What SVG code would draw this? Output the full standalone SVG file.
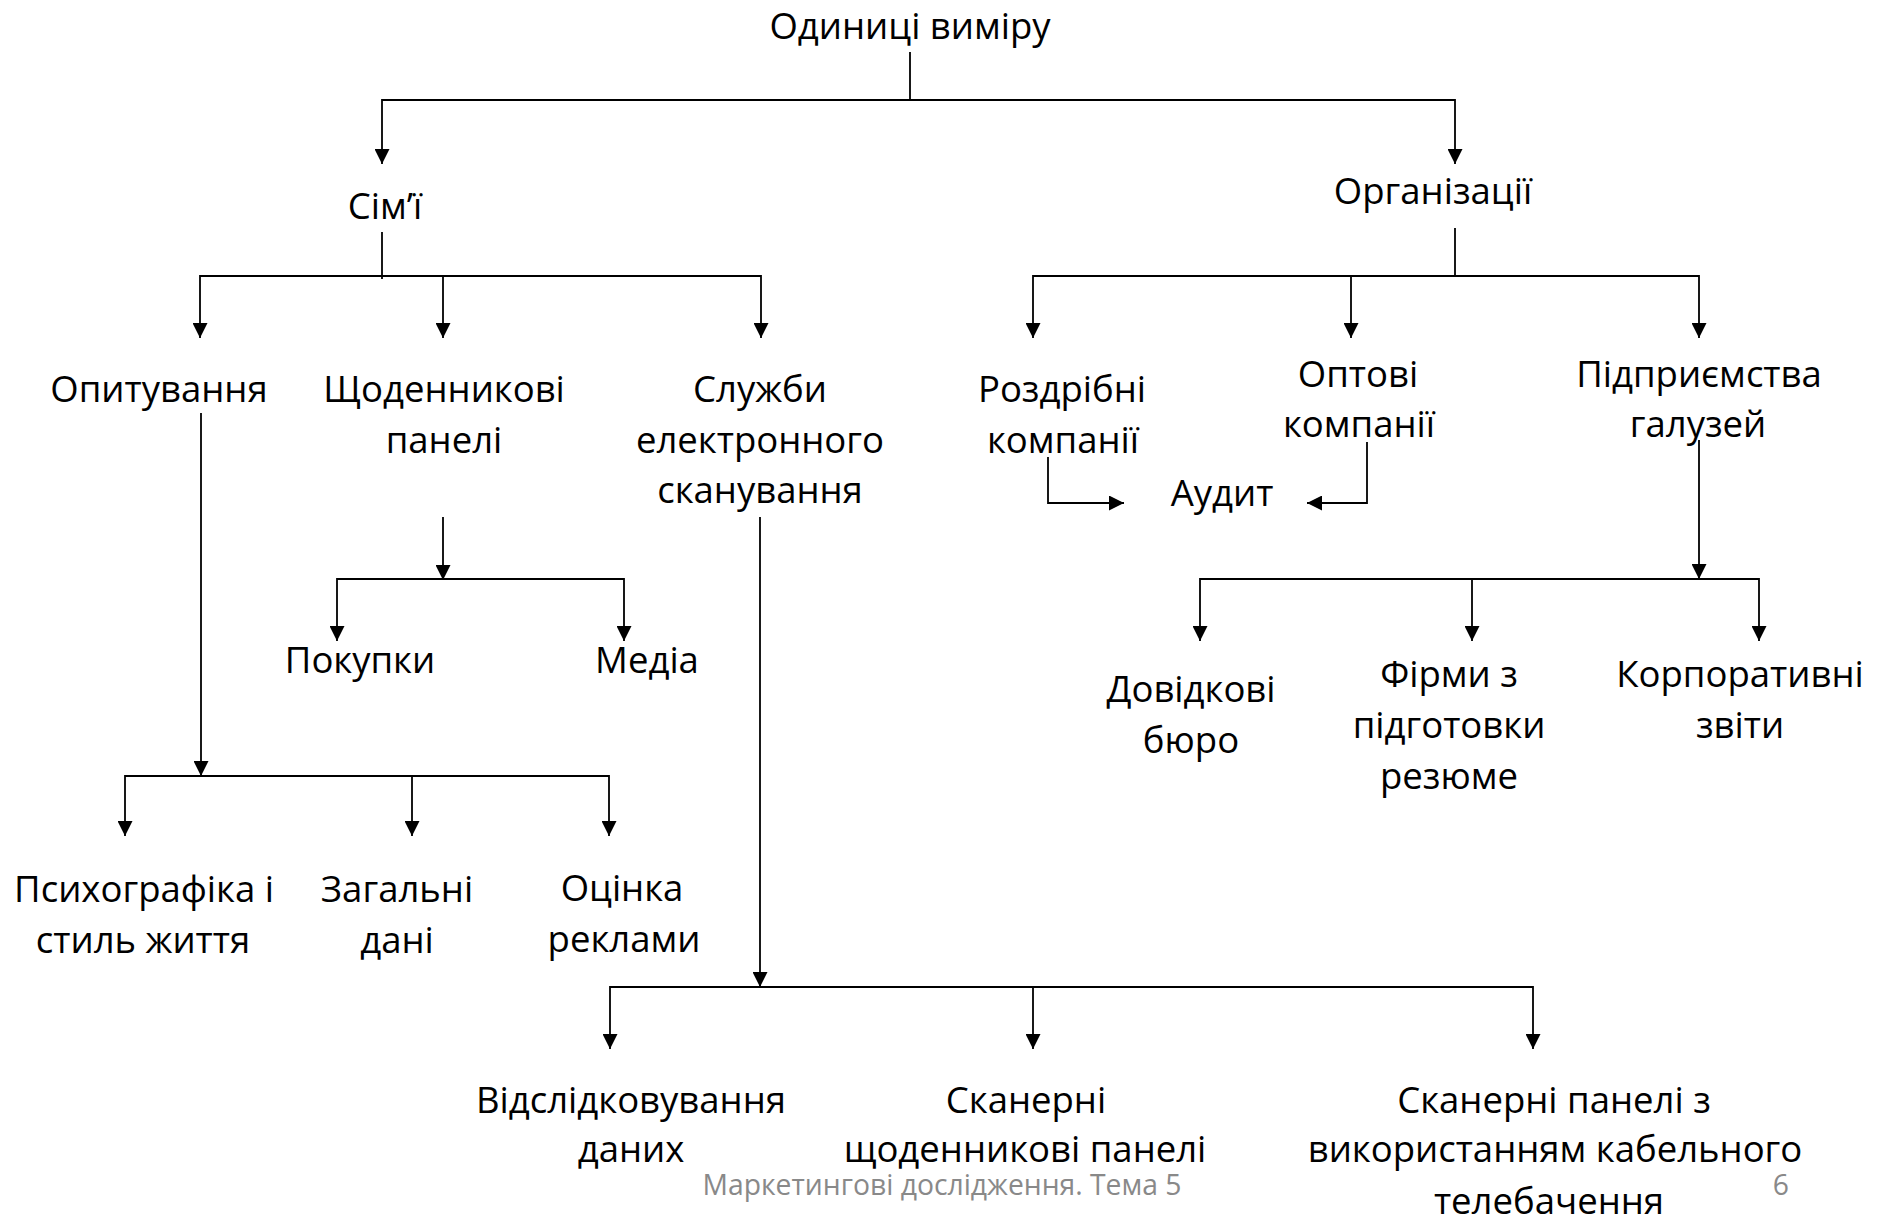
<svg xmlns="http://www.w3.org/2000/svg" width="1886" height="1222" viewBox="0 0 1886 1222">
<defs>
<marker id="arr" markerUnits="userSpaceOnUse" markerWidth="15" markerHeight="15" refX="15" refY="7.5" orient="auto">
<path d="M0,0 L15,7.5 L0,15 z" fill="#000"/>
</marker>
</defs>
<style>
.t{font-family:"Open Sans","Liberation Sans",sans-serif;font-size:36.5px;fill:#000;text-anchor:middle}
.c{fill:none;stroke:#000;stroke-width:1.8}
.a{fill:none;stroke:#000;stroke-width:1.8;marker-end:url(#arr)}
.f{font-family:"Open Sans","Liberation Sans",sans-serif;font-size:28.3px;fill:#898989}
</style>
<rect width="1886" height="1222" fill="#fff"/>
<g id="connectors">
<path class="a" d="M910,52 V100 H382 V164"/>
<path class="a" d="M910,100 H1455 V164"/>
<path class="c" d="M382,232 V279"/>
<path class="a" d="M382,276 H200 V338"/>
<path class="a" d="M382,276 H761 V338"/>
<path class="a" d="M443,276 V338"/>
<path class="c" d="M1455,228 V277"/>
<path class="a" d="M1455,276 H1033 V338"/>
<path class="a" d="M1455,276 H1699 V338"/>
<path class="a" d="M1351,276 V338"/>
<path class="a" d="M443,517 V580"/>
<path class="a" d="M443,579 H337 V641"/>
<path class="a" d="M443,579 H624 V641"/>
<path class="a" d="M201,413 V776"/>
<path class="a" d="M201,776 H125 V836"/>
<path class="a" d="M201,776 H609 V836"/>
<path class="a" d="M412,776 V836"/>
<path class="a" d="M760,517 V987"/>
<path class="a" d="M760,987 H610 V1049"/>
<path class="a" d="M760,987 H1533 V1049"/>
<path class="a" d="M1033,987 V1049"/>
<path class="a" d="M1699,440 V579"/>
<path class="a" d="M1699,579 H1200 V641"/>
<path class="a" d="M1699,579 H1759 V641"/>
<path class="a" d="M1472,579 V641"/>
<path class="a" d="M1048,457 V503 H1124"/>
<path class="a" d="M1367,442 V503 H1307"/>
</g>
<g id="n-root"><text class="t" x="910" y="39">Одиниці виміру</text></g>
<g id="n-simi"><text class="t" x="385" y="219">Сім’ї</text></g>
<g id="n-org"><text class="t" x="1433" y="204">Організації</text></g>
<g id="n-opyt"><text class="t" x="159" y="402">Опитування</text></g>
<g id="n-shchod"><text class="t" x="444" y="402">Щоденникові</text><text class="t" x="444" y="453">панелі</text></g>
<g id="n-sluzhby"><text class="t" x="760" y="402">Служби</text><text class="t" x="760" y="453">електронного</text><text class="t" x="760" y="503">сканування</text></g>
<g id="n-rozdr"><text class="t" x="1062" y="402">Роздрібні</text><text class="t" x="1063" y="453">компанії</text></g>
<g id="n-opt"><text class="t" x="1358" y="387">Оптові</text><text class="t" x="1359" y="437">компанії</text></g>
<g id="n-pidpr"><text class="t" x="1699" y="387">Підприємства</text><text class="t" x="1698" y="437">галузей</text></g>
<g id="n-audyt"><text class="t" x="1222" y="506">Аудит</text></g>
<g id="n-pokupky"><text class="t" x="360" y="673">Покупки</text></g>
<g id="n-media"><text class="t" x="647" y="673">Медіа</text></g>
<g id="n-psych"><text class="t" x="144" y="902">Психографіка і</text><text class="t" x="143" y="953">стиль життя</text></g>
<g id="n-zag"><text class="t" x="397" y="902">Загальні</text><text class="t" x="397" y="953">дані</text></g>
<g id="n-otsinka"><text class="t" x="622" y="901">Оцінка</text><text class="t" x="624" y="952">реклами</text></g>
<g id="n-dovid"><text class="t" x="1191" y="702">Довідкові</text><text class="t" x="1191" y="753">бюро</text></g>
<g id="n-firmy"><text class="t" x="1449" y="687">Фірми з</text><text class="t" x="1449" y="738">підготовки</text><text class="t" x="1449" y="789">резюме</text></g>
<g id="n-korp"><text class="t" x="1740" y="687">Корпоративні</text><text class="t" x="1740" y="738">звіти</text></g>
<g id="n-vidsl"><text class="t" x="631" y="1113">Відслідковування</text><text class="t" x="631" y="1162">даних</text></g>
<g id="n-skan"><text class="t" x="1026" y="1113">Сканерні</text><text class="t" x="1025" y="1162">щоденникові панелі</text></g>
<g id="n-skankab"><text class="t" x="1554" y="1113">Сканерні панелі з</text><text class="t" x="1555" y="1162">використанням кабельного</text><text class="t" x="1549" y="1214">телебачення</text></g>
<g id="footer"><text class="f" x="942" y="1195" text-anchor="middle">Маркетингові дослідження. Тема 5</text><text class="f" x="1789" y="1195" text-anchor="end">6</text></g>
</svg>
